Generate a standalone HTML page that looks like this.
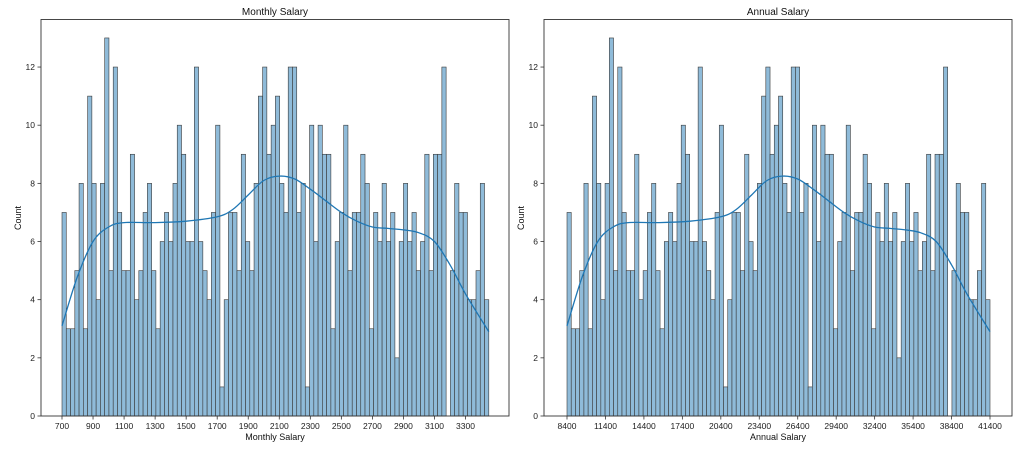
<!DOCTYPE html>
<html><head><meta charset="utf-8">
<style>
body{margin:0;background:#fff;}
svg{display:block;font-family:"Liberation Sans","DejaVu Sans",sans-serif;}
</style></head>
<body>
<svg id="chart" width="1028" height="458" viewBox="0 0 1028 458" xmlns="http://www.w3.org/2000/svg"></svg>
<script>
const counts = [7,3,3,5,8,3,11,8,4,8,13,5,12,7,5,5,9,4,5,7,8,5,3,6,7,6,8,10,9,6,6,12,6,5,4,7,10,1,4,7,7,5,9,6,5,8,11,12,9,10,11,8,7,12,12,7,8,1,10,6,10,9,9,3,6,7,10,5,7,7,9,8,3,7,6,8,6,7,2,6,8,6,7,5,6,9,5,9,9,12,0,5,8,7,7,4,4,5,8,4];
const binStart = 700;
const binWidth = 27.5;
const kdeX = [700,800,900,1000,1100,1300,1500,1700,1800,1900,2000,2100,2200,2300,2400,2500,2600,2700,2800,2900,3000,3100,3200,3300,3450];
const kdeY = [3.1,4.8,6.0,6.5,6.65,6.65,6.7,6.85,7.1,7.6,8.1,8.25,8.15,7.8,7.4,7.0,6.7,6.5,6.45,6.4,6.3,6.0,5.2,4.2,2.9];
const monthlyTicks = [700,900,1100,1300,1500,1700,1900,2100,2300,2500,2700,2900,3100,3300];
const annualTicks = [8400,11400,14400,17400,20400,23400,26400,29400,32400,35400,38400,41400];
const yTicks = [0,2,4,6,8,10,12];

const NS="http://www.w3.org/2000/svg";
const svg=document.getElementById('chart');
function mk(tag,attrs,parent){const e=document.createElementNS(NS,tag);for(const k in attrs)e.setAttribute(k,attrs[k]);(parent||svg).appendChild(e);return e;}
const yS=v=>416-v*29.08;

function smoothPath(pts){
  let d='M'+pts[0][0].toFixed(1)+','+pts[0][1].toFixed(1);
  for(let i=0;i<pts.length-1;i++){
    const p0=pts[Math.max(0,i-1)],p1=pts[i],p2=pts[i+1],p3=pts[Math.min(pts.length-1,i+2)];
    const c1x=p1[0]+(p2[0]-p0[0])/6,c1y=p1[1]+(p2[1]-p0[1])/6;
    const c2x=p2[0]-(p3[0]-p1[0])/6,c2y=p2[1]-(p3[1]-p1[1])/6;
    d+=`C${c1x.toFixed(1)},${c1y.toFixed(1)} ${c2x.toFixed(1)},${c2y.toFixed(1)} ${p2[0].toFixed(1)},${p2[1].toFixed(1)}`;
  }
  return d;
}

function panel(cfg){
  const g=mk('g',{});
  
  
  const xS=v=>cfg.x0+(v*cfg.mult-binStart*cfg.mult)*cfg.k;
  counts.forEach((c,i)=>{
    if(c<=0)return;
    const a=xS(binStart+i*binWidth), b=xS(binStart+(i+1)*binWidth);
    const r=mk('rect',{x:a,y:yS(c),width:b-a,height:416-yS(c),fill:'#8fbbd9',stroke:'#3a3a3a','stroke-width':0.6},g);
    
    
  });
  const pts=kdeX.map((v,i)=>[xS(v),yS(kdeY[i])]);
  const p=mk('path',{d:smoothPath(pts),fill:'none',stroke:'#1f77b4','stroke-width':1.3},g);
  
  
  const f=mk('rect',{x:cfg.L,y:19.5,width:cfg.R-cfg.L,height:396.5,fill:'none',stroke:'#333','stroke-width':0.9},g);
  
  
  cfg.ticks.forEach(t=>{
    const x=cfg.x0+(t-binStart*cfg.mult)*cfg.k;
    mk('line',{x1:x,x2:x,y1:416,y2:419.5,stroke:'#333','stroke-width':0.8},g);
    const tx=mk('text',{x:x,y:429,'font-size':8.5,'text-anchor':'middle',fill:'#222'},g);
    tx.textContent=t;
    
    
  });
  yTicks.forEach(t=>{
    const y=yS(t);
    mk('line',{x1:cfg.L-3.5,x2:cfg.L,y1:y,y2:y,stroke:'#333','stroke-width':0.8},g);
    const tx=mk('text',{x:cfg.L-6,y:y+3,'font-size':8.5,'text-anchor':'end',fill:'#222'},g);
    tx.textContent=t;
    
    
  });
  const ti=mk('text',{x:(cfg.L+cfg.R)/2,y:15,'font-size':10,'text-anchor':'middle',fill:'#111'},g);
  ti.textContent=cfg.title;
  
  
  const xl=mk('text',{x:(cfg.L+cfg.R)/2,y:440,'font-size':9,'text-anchor':'middle',fill:'#111'},g);
  xl.textContent=cfg.title;
  
  
  const yl=mk('text',{x:0,y:0,'font-size':9,'text-anchor':'middle',fill:'#111',transform:`translate(${cfg.L-20},218) rotate(-90)`},g);
  yl.textContent='Count';
  
  
}
panel({name:'monthly-salary-panel',title:'Monthly Salary',L:41,R:509,x0:62,k:0.1552,mult:1,ticks:monthlyTicks});
panel({name:'annual-salary-panel',title:'Annual Salary',L:544,R:1012,x0:567,k:(990-567)/33000,mult:12,ticks:annualTicks});
</script>
</body></html>
